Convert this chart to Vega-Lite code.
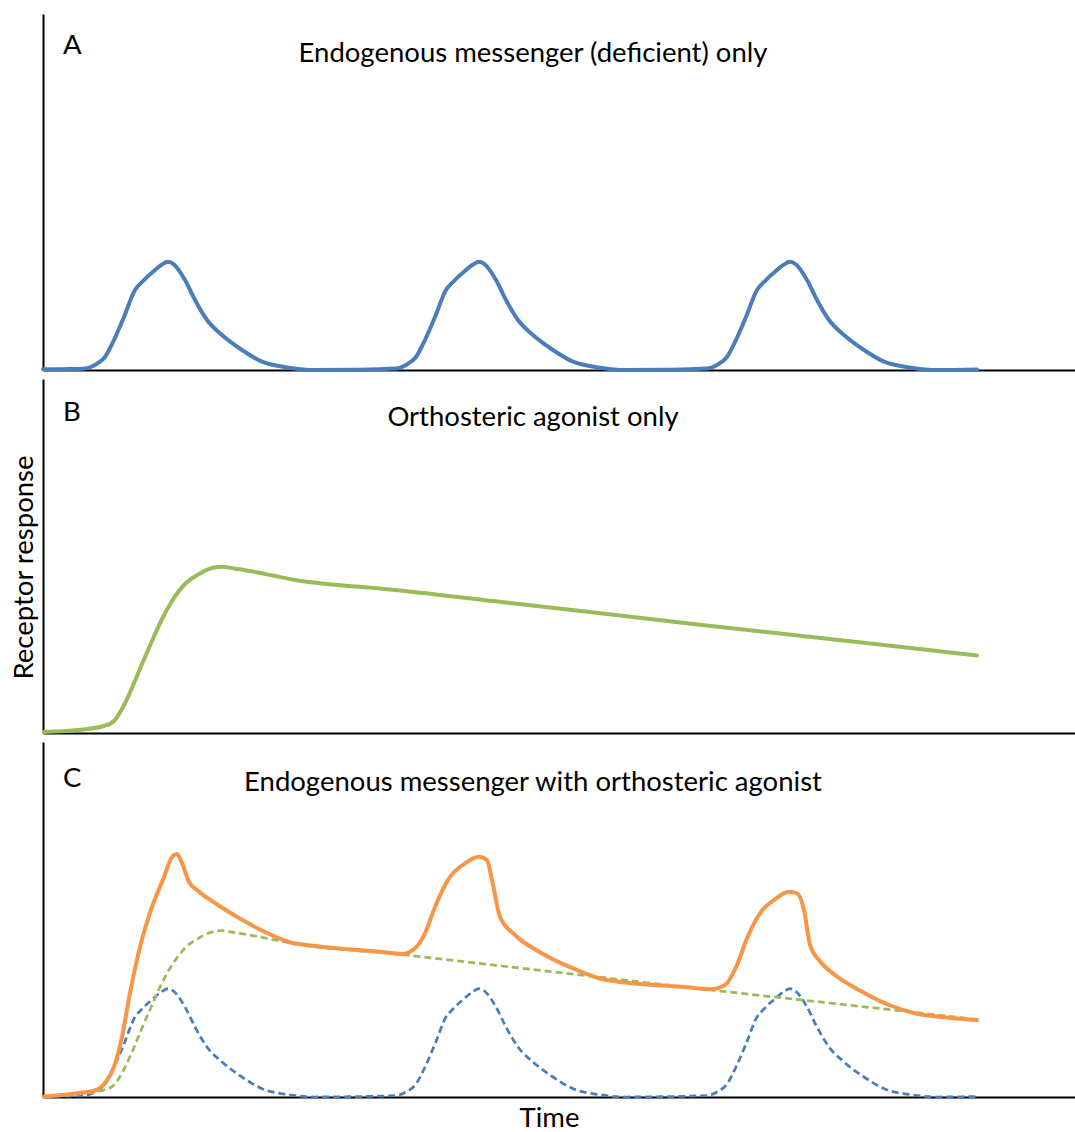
{
  "$schema": "https://vega.github.io/schema/vega-lite/v6.json",
  "background": "white",
  "padding": {"left": 9, "top": 14, "right": 0, "bottom": 0},
  "spacing": 9,
  "bounds": "flush",
  "config": {
    "view": {"stroke": null},
    "font": "Lato",
    "axis": {
      "domainColor": "#000000",
      "domainWidth": 2,
      "ticks": false,
      "labels": false,
      "grid": false,
      "titleFont": "Lato",
      "titleFontSize": 27.5,
      "titleFontWeight": "normal",
      "titleColor": "#000000"
    }
  },
  "datasets": {
    "messenger": [
      {"t": 0, "r": 0.7}, {"t": 29, "r": 1.0}, {"t": 42, "r": 1.5}, {"t": 52, "r": 5}, {"t": 62, "r": 13},
      {"t": 71, "r": 30}, {"t": 81, "r": 53}, {"t": 92, "r": 80}, {"t": 99, "r": 88}, {"t": 112, "r": 100},
      {"t": 119, "r": 105.5}, {"t": 125, "r": 108.3}, {"t": 131, "r": 105.5}, {"t": 142, "r": 90}, {"t": 152, "r": 70}, {"t": 164, "r": 50},
      {"t": 179, "r": 35}, {"t": 199, "r": 20}, {"t": 219, "r": 8.3}, {"t": 246, "r": 2.3}, {"t": 272, "r": 0},
      {"t": 309, "r": 0.3},
      {"t": 353, "r": 1.5}, {"t": 363, "r": 5}, {"t": 373, "r": 13}, {"t": 382, "r": 30}, {"t": 392, "r": 53},
      {"t": 403, "r": 80}, {"t": 410, "r": 88}, {"t": 423, "r": 100}, {"t": 430, "r": 105.5}, {"t": 436, "r": 108.3}, {"t": 442, "r": 105.5},
      {"t": 453, "r": 90}, {"t": 463, "r": 70}, {"t": 475, "r": 50}, {"t": 490, "r": 35}, {"t": 510, "r": 20},
      {"t": 530, "r": 8.3}, {"t": 557, "r": 2.3}, {"t": 583, "r": 0}, {"t": 620, "r": 0.3},
      {"t": 664, "r": 1.5}, {"t": 674, "r": 5}, {"t": 684, "r": 13}, {"t": 693, "r": 30}, {"t": 703, "r": 53},
      {"t": 714, "r": 80}, {"t": 721, "r": 88}, {"t": 734, "r": 100}, {"t": 741, "r": 105.5}, {"t": 747, "r": 108.3}, {"t": 753, "r": 105.5},
      {"t": 764, "r": 90}, {"t": 774, "r": 70}, {"t": 786, "r": 50}, {"t": 801, "r": 35}, {"t": 821, "r": 20},
      {"t": 841, "r": 8.3}, {"t": 868, "r": 2.3}, {"t": 894, "r": 0}, {"t": 934, "r": 0.5}
    ],
    "agonist": [
      {"t": 0.7, "r": 1}, {"t": 32, "r": 2.7}, {"t": 61, "r": 7}, {"t": 71, "r": 12}, {"t": 79, "r": 24},
      {"t": 89, "r": 45}, {"t": 99, "r": 69}, {"t": 109, "r": 92}, {"t": 119, "r": 114}, {"t": 129, "r": 132},
      {"t": 142, "r": 149}, {"t": 156, "r": 159}, {"t": 169, "r": 165}, {"t": 179, "r": 166.3}, {"t": 192, "r": 164.3},
      {"t": 212, "r": 161}, {"t": 232, "r": 157}, {"t": 252, "r": 153}, {"t": 282, "r": 149.3}, {"t": 339, "r": 144.3},
      {"t": 459, "r": 131}, {"t": 659, "r": 108}, {"t": 859, "r": 86}, {"t": 934, "r": 77.5}
    ],
    "combined": [
      {"t": 0.7, "r": 0.3}, {"t": 42, "r": 4.7}, {"t": 52, "r": 6.5}, {"t": 62, "r": 14}, {"t": 71, "r": 30},
      {"t": 79, "r": 60}, {"t": 87, "r": 104}, {"t": 97, "r": 150}, {"t": 109, "r": 190}, {"t": 121, "r": 220},
      {"t": 129, "r": 240}, {"t": 134, "r": 243}, {"t": 139, "r": 234}, {"t": 146, "r": 215}, {"t": 154, "r": 207},
      {"t": 172, "r": 194}, {"t": 196, "r": 179}, {"t": 222, "r": 165}, {"t": 246, "r": 155}, {"t": 272, "r": 151},
      {"t": 306, "r": 147.7}, {"t": 339, "r": 145}, {"t": 359, "r": 143}, {"t": 372, "r": 148.7}, {"t": 382, "r": 163.7},
      {"t": 392, "r": 190}, {"t": 406, "r": 218.7}, {"t": 422, "r": 233.7}, {"t": 436, "r": 240.3}, {"t": 444, "r": 237},
      {"t": 449, "r": 217}, {"t": 457, "r": 180}, {"t": 472, "r": 162}, {"t": 496, "r": 145.3}, {"t": 526, "r": 130.3},
      {"t": 556, "r": 118.7}, {"t": 589, "r": 113.7}, {"t": 639, "r": 110.3}, {"t": 667, "r": 107.7}, {"t": 682, "r": 112},
      {"t": 694, "r": 132}, {"t": 704, "r": 158.7}, {"t": 717, "r": 183.7}, {"t": 732, "r": 197.7}, {"t": 746, "r": 205.3},
      {"t": 754, "r": 203.7}, {"t": 761, "r": 187}, {"t": 767, "r": 152}, {"t": 776, "r": 137}, {"t": 792, "r": 122},
      {"t": 816, "r": 107}, {"t": 846, "r": 92}, {"t": 872, "r": 83.7}, {"t": 906, "r": 79.3}, {"t": 934, "r": 77}
    ],
    "panels": [
      {"panel": "A", "heading": "Endogenous messenger (deficient) only"},
      {"panel": "B", "heading": "Orthosteric agonist only"},
      {"panel": "C", "heading": "Endogenous messenger with orthosteric agonist"}
    ]
  },
  "vconcat": [
    {
      "width": 1034,
      "height": 356,
      "layer": [
        {
          "data": {"name": "messenger"},
          "mark": {"type": "line", "color": "#4a7ebb", "strokeWidth": 4, "interpolate": "monotone", "strokeCap": "round"},
          "encoding": {
            "x": {"field": "t", "type": "quantitative", "scale": {"domain": [0, 1034], "nice": false, "zero": false}, "axis": {"title": null}},
            "y": {"field": "r", "type": "quantitative", "scale": {"domain": [0, 356], "nice": false}, "axis": {"title": null}}
          }
        },
        {
          "data": {"name": "panels"},
          "transform": [{"filter": "datum.panel === 'A'"}],
          "mark": {"type": "text", "align": "left", "baseline": "middle", "font": "Lato", "fontSize": 27.5, "color": "#000000"},
          "encoding": {"x": {"datum": 20, "type": "quantitative"}, "y": {"datum": 324, "type": "quantitative"}, "text": {"field": "panel"}}
        },
        {
          "data": {"name": "panels"},
          "transform": [{"filter": "datum.panel === 'A'"}],
          "mark": {"type": "text", "align": "center", "baseline": "middle", "font": "Lato", "fontSize": 27.5, "color": "#000000"},
          "encoding": {"x": {"datum": 490, "type": "quantitative"}, "y": {"datum": 316, "type": "quantitative"}, "text": {"field": "heading"}}
        }
      ]
    },
    {
      "width": 1034,
      "height": 354,
      "layer": [
        {
          "data": {"name": "agonist"},
          "mark": {"type": "line", "color": "#9bbb59", "strokeWidth": 4, "interpolate": "monotone", "strokeCap": "round"},
          "encoding": {
            "x": {"field": "t", "type": "quantitative", "scale": {"domain": [0, 1034], "nice": false, "zero": false}, "axis": {"title": null}},
            "y": {"field": "r", "type": "quantitative", "scale": {"domain": [0, 354], "nice": false},
                  "axis": {"title": "Receptor response", "titleX": -19, "titleY": 188, "titleBaseline": "middle", "titleAlign": "center", "titleAngle": 270}}
          }
        },
        {
          "data": {"name": "panels"},
          "transform": [{"filter": "datum.panel === 'B'"}],
          "mark": {"type": "text", "align": "left", "baseline": "middle", "font": "Lato", "fontSize": 27.5, "color": "#000000"},
          "encoding": {"x": {"datum": 20, "type": "quantitative"}, "y": {"datum": 320, "type": "quantitative"}, "text": {"field": "panel"}}
        },
        {
          "data": {"name": "panels"},
          "transform": [{"filter": "datum.panel === 'B'"}],
          "mark": {"type": "text", "align": "center", "baseline": "middle", "font": "Lato", "fontSize": 27.5, "color": "#000000"},
          "encoding": {"x": {"datum": 490, "type": "quantitative"}, "y": {"datum": 315, "type": "quantitative"}, "text": {"field": "heading"}}
        }
      ]
    },
    {
      "width": 1034,
      "height": 355,
      "layer": [
        {
          "data": {"name": "messenger"},
          "mark": {"type": "line", "color": "#4a7ebb", "strokeWidth": 2.75, "strokeDash": [7, 4], "interpolate": "monotone"},
          "encoding": {
            "x": {"field": "t", "type": "quantitative", "scale": {"domain": [0, 1034], "nice": false, "zero": false},
                  "axis": {"title": "Time", "titleX": 506, "titleY": 21, "titleBaseline": "middle", "titleAlign": "center"}},
            "y": {"field": "r", "type": "quantitative", "scale": {"domain": [0, 355], "nice": false}, "axis": {"title": null}}
          }
        },
        {
          "data": {"name": "agonist"},
          "mark": {"type": "line", "color": "#9bbb59", "strokeWidth": 2.75, "strokeDash": [7, 4], "interpolate": "monotone"},
          "encoding": {"x": {"field": "t", "type": "quantitative"}, "y": {"field": "r", "type": "quantitative"}}
        },
        {
          "data": {"name": "combined"},
          "mark": {"type": "line", "color": "#f79646", "strokeWidth": 4, "interpolate": "monotone", "strokeCap": "round"},
          "encoding": {"x": {"field": "t", "type": "quantitative"}, "y": {"field": "r", "type": "quantitative"}}
        },
        {
          "data": {"name": "panels"},
          "transform": [{"filter": "datum.panel === 'C'"}],
          "mark": {"type": "text", "align": "left", "baseline": "middle", "font": "Lato", "fontSize": 27.5, "color": "#000000"},
          "encoding": {"x": {"datum": 20, "type": "quantitative"}, "y": {"datum": 318, "type": "quantitative"}, "text": {"field": "panel"}}
        },
        {
          "data": {"name": "panels"},
          "transform": [{"filter": "datum.panel === 'C'"}],
          "mark": {"type": "text", "align": "center", "baseline": "middle", "font": "Lato", "fontSize": 27.5, "color": "#000000"},
          "encoding": {"x": {"datum": 490, "type": "quantitative"}, "y": {"datum": 314, "type": "quantitative"}, "text": {"field": "heading"}}
        }
      ]
    }
  ]
}
